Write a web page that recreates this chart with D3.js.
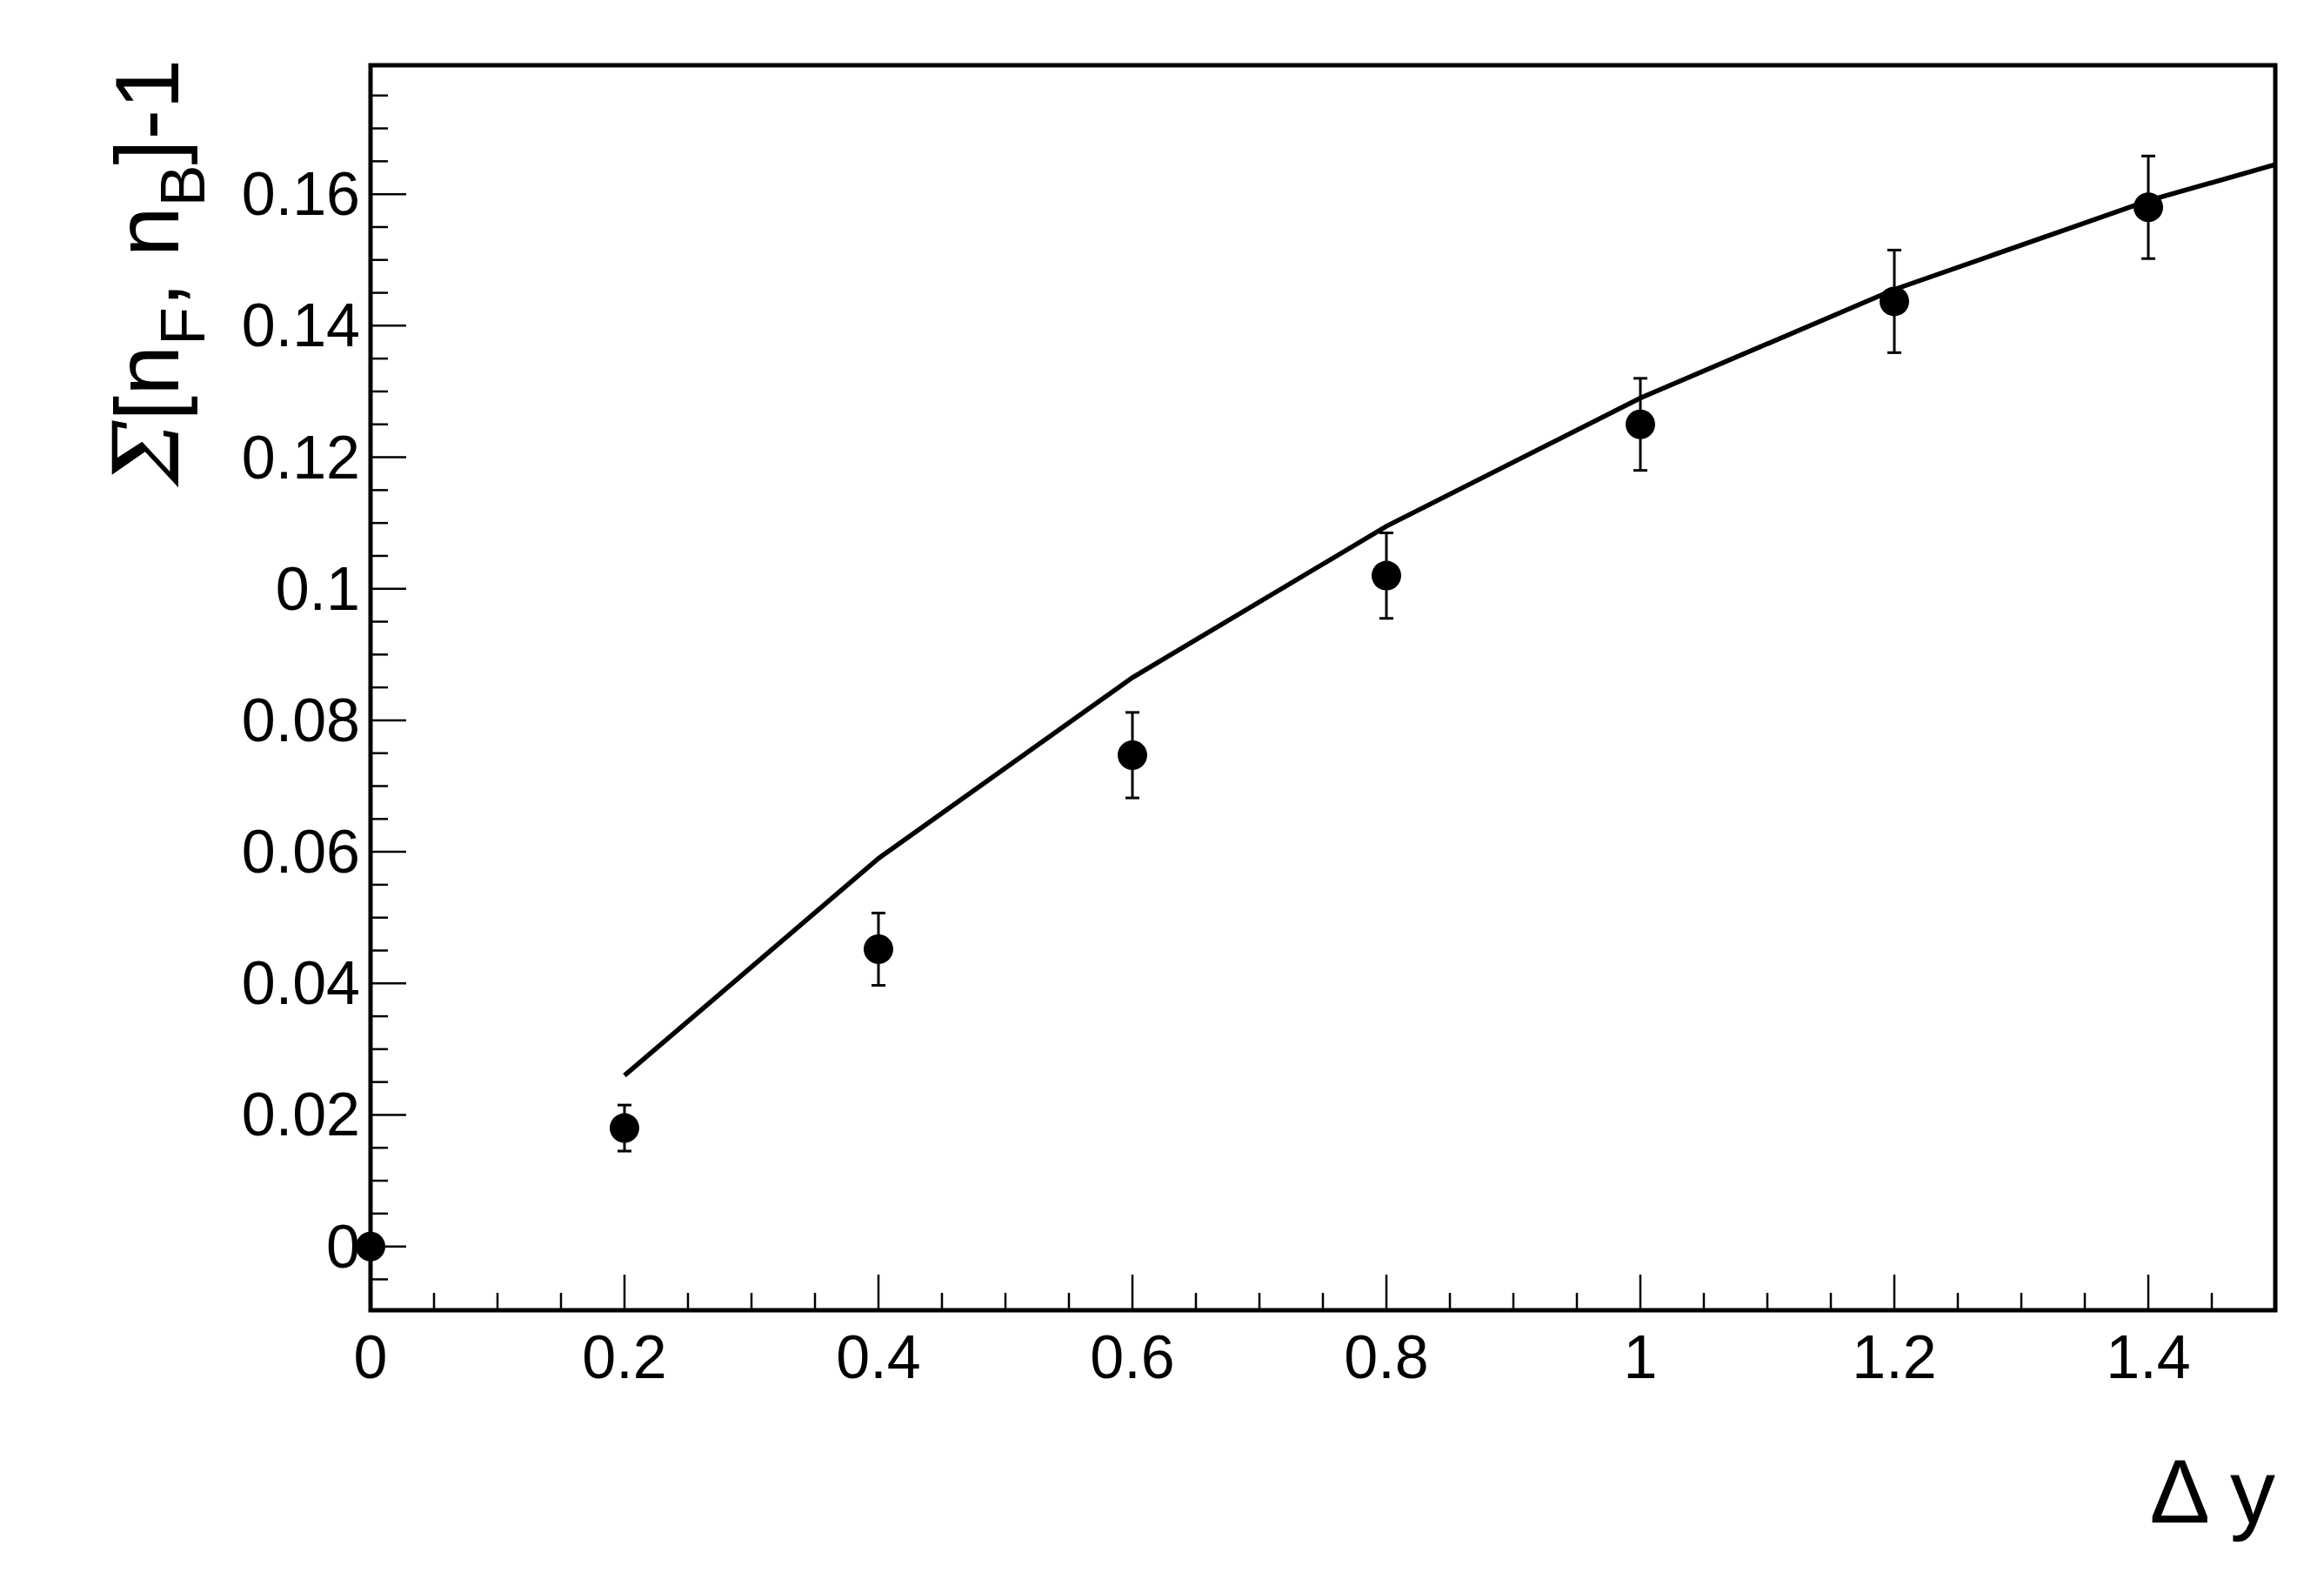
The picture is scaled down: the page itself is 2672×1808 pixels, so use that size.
<!DOCTYPE html>
<html><head><meta charset="utf-8">
<script src="https://cdn.jsdelivr.net/npm/d3@7"></script>
<style>body{margin:0;background:#fff}</style></head>
<body><svg id="c" width="2672" height="1808"></svg>
<script>
const pointsX = [0, 0.2, 0.4, 0.6, 0.8, 1.0, 1.2, 1.4];
const pointsY = [0, 0.018, 0.0452, 0.0747, 0.102, 0.125, 0.1437, 0.158];
const pointsErr = [0, 0.0035, 0.0055, 0.0065, 0.0065, 0.007, 0.0078, 0.0078];
const curveX = [0.2, 0.4, 0.6, 0.8, 1.0, 1.2, 1.4, 1.5];
const curveY = [0.026, 0.059, 0.0865, 0.1095, 0.129, 0.1455, 0.159, 0.1645];
const xTickLabels = ["0","0.2","0.4","0.6","0.8","1","1.2","1.4"];
const yTickLabels = ["0","0.02","0.04","0.06","0.08","0.1","0.12","0.14","0.16"];

const svg = d3.select("#c");
const L=426,R=2616,T=75,B=1506;
const x = d3.scaleLinear().domain([0,1.5]).range([L,R]);
const y = d3.scaleLinear().domain([-0.0097,0.1796]).range([B,T]);
const font="Liberation Sans, Arial, sans-serif";

// ticks
const g = svg.append("g").attr("stroke","#000").attr("stroke-width",2.5);
for(let i=0;i<=30;i++){const v=i*0.05;const len=i%4===0?41:20;
  g.append("line").attr("x1",x(v)).attr("x2",x(v)).attr("y1",B).attr("y2",B-len);}
for(let i=-1;i<=35;i++){const v=i*0.005;if(y(v)>B||y(v)<T)continue;const len=i%4===0?41:20;
  g.append("line").attr("x1",L).attr("x2",L+len).attr("y1",y(v)).attr("y2",y(v));}

xTickLabels.forEach((t,i)=>svg.append("text").attr("x",x(i*0.2)).attr("y",B+78)
  .attr("text-anchor","middle").attr("font-family",font).attr("font-size",70).text(t));
yTickLabels.forEach((t,i)=>svg.append("text").attr("x",L-12).attr("y",y(i*0.02)+24)
  .attr("text-anchor","end").attr("font-family",font).attr("font-size",70).text(t));

// curve
svg.append("path").datum(curveX.map((v,i)=>[v,curveY[i]]))
  .attr("d",d3.line().x(d=>x(d[0])).y(d=>y(d[1])))
  .attr("fill","none").attr("stroke","#000").attr("stroke-width",5.5);

// error bars and points
pointsX.forEach((v,i)=>{
  const e=pointsErr[i];
  if(e>0){
    svg.append("line").attr("x1",x(v)).attr("x2",x(v)).attr("y1",y(pointsY[i]-e)).attr("y2",y(pointsY[i]+e)).attr("stroke","#000").attr("stroke-width",3);
    [pointsY[i]-e,pointsY[i]+e].forEach(yy=>svg.append("line").attr("x1",x(v)-8).attr("x2",x(v)+8).attr("y1",y(yy)).attr("y2",y(yy)).attr("stroke","#000").attr("stroke-width",3));
  }
  svg.append("circle").attr("cx",x(v)).attr("cy",y(pointsY[i])).attr("r",17).attr("fill","#000");
});

// frame
svg.append("rect").attr("x",L).attr("y",T).attr("width",R-L).attr("height",B-T)
  .attr("fill","none").attr("stroke","#000").attr("stroke-width",5);

// axis titles
svg.append("text").attr("x",R).attr("y",1750).attr("text-anchor","end")
  .attr("font-family",font).attr("font-size",104).text("Δ y");
const yt = svg.append("text").attr("transform","translate(205,68) rotate(-90)")
  .attr("text-anchor","end").attr("font-family",font).attr("font-size",104);
yt.append("tspan").attr("font-family","DejaVu Serif, serif").attr("font-style","italic").text("Σ");
yt.append("tspan").text("[n");
yt.append("tspan").attr("font-size",72).attr("dy",30).text("F");
yt.append("tspan").attr("dy",-30).text(", n");
yt.append("tspan").attr("font-size",72).attr("dy",30).text("B");
yt.append("tspan").attr("dy",-30).text("]-1");
</script></body></html>
